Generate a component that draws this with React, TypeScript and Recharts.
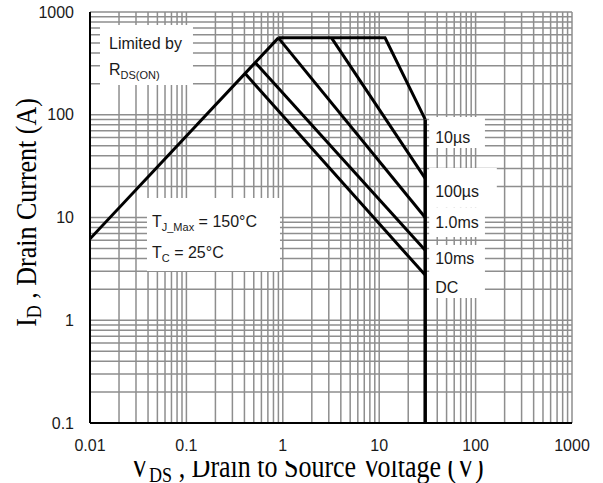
import React from "react";
import {
  LineChart,
  Line,
  XAxis,
  YAxis,
  CartesianGrid,
  ReferenceArea,
} from "recharts";

const W = 603;
const H = 483;

// SOA boundaries (VDS in V, ID in A)
const rdsLimit = [
  { v: 0.01, i: 6.2 },
  { v: 0.9, i: 560 },
];
const pulse10us = [
  { v: 0.9, i: 560 },
  { v: 11.5, i: 560 },
  { v: 30, i: 90 },
];
const pulse100us = [
  { v: 3.2, i: 560 },
  { v: 30, i: 24 },
];
const pulse1ms = [
  { v: 0.9, i: 560 },
  { v: 30, i: 10 },
];
const pulse10ms = [
  { v: 0.52, i: 320 },
  { v: 30, i: 4.8 },
];
const dcLine = [
  { v: 0.405, i: 253 },
  { v: 30, i: 2.75 },
];
const vdsLimit = [
  { v: 30, i: 90 },
  { v: 30, i: 0.1 },
];

const xDecades = [0.01, 0.1, 1, 10, 100, 1000];
const yDecades = [0.1, 1, 10, 100, 1000];

// 1..9 in every decade, for the log grid
function logTicks(decades: number[]) {
  const out: number[] = [];
  decades.slice(0, -1).forEach((d) => {
    for (let k = 1; k < 10; k++) out.push(Number((d * k).toPrecision(2)));
  });
  out.push(decades[decades.length - 1]);
  return out;
}

const SANS = "'Liberation Sans', Arial, sans-serif";
const SERIF = "'Liberation Serif', 'Times New Roman', serif";
const INK = "#1a1a1a";

type Piece = { t: string; sub?: boolean };
type Note = {
  x1: number;
  x2: number;
  y1: number;
  y2: number;
  pad: number;
  lines: { dy: number; parts: Piece[] }[];
};

// white label boxes, in data units
const notes: Note[] = [
  {
    x1: 0.0127, x2: 0.117, y1: 747, y2: 195, pad: 9,
    lines: [
      { dy: 24, parts: [{ t: "Limited by" }] },
      { dy: 50, parts: [{ t: "R" }, { t: "DS(ON)", sub: true }] },
    ],
  },
  {
    x1: 0.039, x2: 0.935, y1: 15.5, y2: 3.02, pad: 5,
    lines: [
      { dy: 29, parts: [{ t: "T" }, { t: "J_Max", sub: true }, { t: " = 150°C" }] },
      { dy: 60, parts: [{ t: "T" }, { t: "C", sub: true }, { t: " = 25°C" }] },
    ],
  },
  { x1: 33, x2: 125, y1: 95, y2: 47.5, pad: 6, lines: [{ dy: 26, parts: [{ t: "10µs" }] }] },
  { x1: 33, x2: 166, y1: 30.3, y2: 12.6, pad: 6, lines: [{ dy: 29, parts: [{ t: "100µs" }] }] },
  { x1: 33, x2: 125, y1: 12.6, y2: 6.46, pad: 6, lines: [{ dy: 21, parts: [{ t: "1.0ms" }] }] },
  { x1: 33, x2: 125, y1: 5.4, y2: 3.08, pad: 6, lines: [{ dy: 19, parts: [{ t: "10ms" }] }] },
  { x1: 33, x2: 125, y1: 3.08, y2: 1.65, pad: 6, lines: [{ dy: 23, parts: [{ t: "DC" }] }] },
];

function NoteText({ viewBox, note }: { viewBox?: any; note: Note }) {
  if (!viewBox) return null;
  return (
    <g>
      {note.lines.map((ln, idx) => (
        <text
          key={idx}
          x={viewBox.x + note.pad}
          y={viewBox.y + ln.dy}
          fontFamily={SANS}
          fontSize={16}
          fill={INK}
        >
          {ln.parts.map((p, j) =>
            p.sub ? (
              <tspan key={j} fontSize={11} dy={4}>
                {p.t}
              </tspan>
            ) : (
              <tspan key={j} dy={j > 0 && ln.parts[j - 1].sub ? -4 : 0}>
                {p.t}
              </tspan>
            )
          )}
        </text>
      ))}
    </g>
  );
}

function XTitle({ viewBox }: { viewBox?: any }) {
  if (!viewBox) return null;
  const cx = viewBox.x + viewBox.width / 2 - 24;
  const base = viewBox.y + viewBox.height + 24;
  return (
    <g>
      <defs>
        <clipPath id="xtitle-clip">
          <rect x={0} y={base - 16} width={W} height={40} />
        </clipPath>
      </defs>
      <g clipPath="url(#xtitle-clip)">
        <text
          transform={`translate(${cx},${base}) scale(1,1.2)`}
          textAnchor="middle"
          fontFamily={SERIF}
          fontSize={26}
          fill="#000"
        >
          V<tspan fontSize={18} dy={4}>DS</tspan>
          <tspan dy={-4}> , Drain to Source Voltage (V)</tspan>
        </text>
      </g>
    </g>
  );
}

function YTitle({ viewBox }: { viewBox?: any }) {
  if (!viewBox) return null;
  const cy = viewBox.y + viewBox.height / 2 - 5;
  return (
    <text
      transform={`translate(36,${cy}) rotate(-90) scale(1,1.15)`}
      textAnchor="middle"
      fontFamily={SERIF}
      fontSize={26}
      fill="#000"
    >
      I<tspan fontSize={18} dy={4}>D</tspan>
      <tspan dy={-4}> , Drain Current (A)</tspan>
    </text>
  );
}

const curves = [rdsLimit, pulse10us, pulse100us, pulse1ms, pulse10ms, dcLine];

export default function App() {
  const tickStyle = { fontFamily: SANS, fontSize: 16, fill: INK };
  return (
    <div
      style={{
        position: "absolute",
        left: 0,
        top: 0,
        width: W,
        height: H,
        background: "#fff",
      }}
    >
      <LineChart
        width={W}
        height={H}
        margin={{ top: 12, right: 31, bottom: 30, left: 0 }}
      >
        <CartesianGrid stroke="#8e8e8e" strokeWidth={1.5} />
        <XAxis
          dataKey="v"
          type="number"
          scale="log"
          domain={[0.01, 1000]}
          allowDataOverflow
          ticks={logTicks(xDecades)}
          interval={0}
          tickFormatter={(v: number) => (xDecades.includes(v) ? String(v) : "")}
          tick={tickStyle}
          tickLine={false}
          tickSize={0}
          tickMargin={17}
          height={30}
          axisLine={{ stroke: "#000", strokeWidth: 2 }}
          label={(p: any) => <XTitle viewBox={p.viewBox} />}
        />
        <YAxis
          dataKey="i"
          type="number"
          scale="log"
          domain={[0.1, 1000]}
          allowDataOverflow
          ticks={logTicks(yDecades)}
          interval={0}
          tickFormatter={(v: number) => (yDecades.includes(v) ? String(v) : "")}
          tick={tickStyle}
          tickLine={false}
          tickSize={0}
          tickMargin={16}
          width={90}
          axisLine={{ stroke: "#000", strokeWidth: 2 }}
          label={(p: any) => <YTitle viewBox={p.viewBox} />}
        />
        {notes.map((n, k) => (
          <ReferenceArea
            key={k}
            x1={n.x1}
            x2={n.x2}
            y1={n.y1}
            y2={n.y2}
            fill="#fff"
            fillOpacity={1}
            stroke="none"
            label={(p: any) => <NoteText viewBox={p.viewBox} note={n} />}
          />
        ))}
        {curves.map((d, k) => (
          <Line
            key={k}
            data={d}
            dataKey="i"
            type="linear"
            stroke="#000"
            strokeWidth={3}
            dot={false}
            activeDot={false}
            isAnimationActive={false}
          />
        ))}
        <Line
          data={vdsLimit}
          dataKey="i"
          type="linear"
          stroke="#000"
          strokeWidth={3.5}
          dot={false}
          activeDot={false}
          isAnimationActive={false}
        />
      </LineChart>
    </div>
  );
}
